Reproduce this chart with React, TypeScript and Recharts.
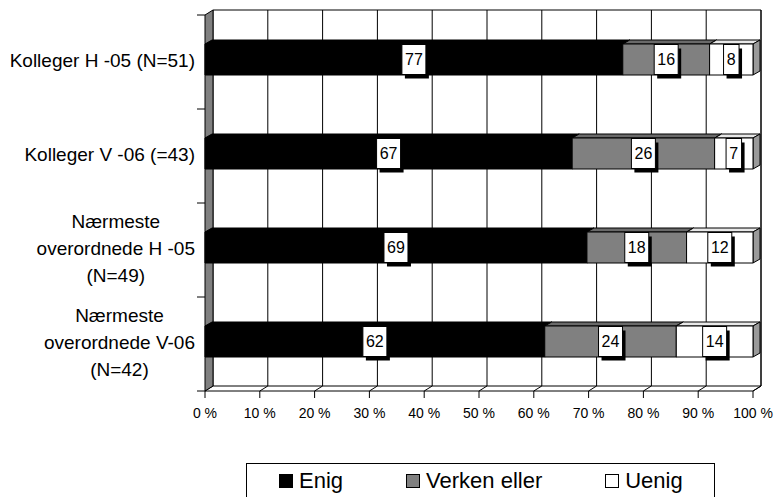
import { BarChart, Bar, XAxis, YAxis, CartesianGrid, ReferenceArea, LabelList } from 'recharts'

const categories = [
  'Kolleger H -05 (N=51)',
  'Kolleger V -06 (=43)',
  'Nærmeste\noverordnede H -05\n(N=49)',
  'Nærmeste\noverordnede V-06\n(N=42)',
]
const enig = [77, 67, 69, 62]
const verken = [16, 26, 18, 24]
const uenig = [8, 7, 12, 14]
const percentTicks = [0, 0.1, 0.2, 0.3, 0.4, 0.5, 0.6, 0.7, 0.8, 0.9, 1]

const series = [
  { key: 'enig', name: 'Enig', front: '#000000', top: '#000000', side: '#000000' },
  { key: 'verken', name: 'Verken eller', front: '#808080', top: '#6a6a6a', side: '#6a6a6a' },
  { key: 'uenig', name: 'Uenig', front: '#ffffff', top: '#e8e8e8', side: '#9a9a9a' },
]

const rows = categories.map((name, i) => ({ name, enig: enig[i], verken: verken[i], uenig: uenig[i] }))

const FONT = '"Liberation Sans", Arial, sans-serif'
// depth of the 3d box (walls) and of the bars
const DX = 8
const DY = -5
const BAR_DX = 7
const BAR_DY = -4
const BAR_SHIFT = -3

let ctx: CanvasRenderingContext2D | null = null
function textWidth(s: string, font: string) {
  if (!ctx) ctx = document.createElement('canvas').getContext('2d')
  if (!ctx) return s.length * 9
  ctx.font = font
  return ctx.measureText(s).width
}

function make3DBar(s: (typeof series)[number]) {
  return (props: any) => {
    const { x, y, width, height } = props
    if (!width || !height) return <g />
    const y0 = y + BAR_SHIFT
    const x1 = x + width
    const y1 = y0 + height
    return (
      <g stroke="#000" strokeWidth={1} strokeLinejoin="round">
        <polygon
          points={`${x},${y0} ${x + BAR_DX},${y0 + BAR_DY} ${x1 + BAR_DX},${y0 + BAR_DY} ${x1},${y0}`}
          fill={s.top}
        />
        <polygon
          points={`${x1},${y0} ${x1 + BAR_DX},${y0 + BAR_DY} ${x1 + BAR_DX},${y1 + BAR_DY} ${x1},${y1}`}
          fill={s.side}
        />
        <rect x={x} y={y0} width={width} height={height} fill={s.front} />
      </g>
    )
  }
}

function ValueBox(props: any) {
  const vb = props.viewBox ?? props
  const { x, y, width, height } = vb
  const { value } = props
  if (value == null || !width) return null
  const cx = x + width / 2
  const cy = y + height / 2 + BAR_SHIFT
  const w = String(value).length * 8.5 + 7
  const h = 30
  const bx = cx - w / 2
  const by = cy - h / 2
  return (
    <g>
      <rect x={bx + 3} y={by + 4} width={w} height={h} fill="#000" />
      <rect x={bx} y={by} width={w} height={h} fill="#fff" stroke="#000" strokeWidth={1} />
      <text x={cx} y={cy} dy="0.36em" textAnchor="middle" fontSize={16} fontFamily={FONT} fill="#000">
        {value}
      </text>
    </g>
  )
}

function CategoryTick(props: any) {
  const { x, y, payload } = props
  const lines = String(payload.value).split('\n')
  const font = `19px ${FONT}`
  const maxW = Math.max(...lines.map((l) => textWidth(l, font)))
  const cx = x - maxW / 2
  const lh = 27
  const startY = y - ((lines.length - 1) * lh) / 2 - 2
  return (
    <text textAnchor="middle" fontSize={19} fontFamily={FONT} fill="#000">
      {lines.map((l, i) => (
        <tspan key={i} x={cx} y={startY + i * lh} dy="0.36em">
          {l}
        </tspan>
      ))}
    </text>
  )
}

function Walls(props: any) {
  const { x, y, width, height } = props
  const r = x + width
  const b = y + height
  const bounds = categories.map((_, i) => y + (height * i) / categories.length).concat(b)
  return (
    <g stroke="#000" strokeWidth={1} fill="none">
      <polygon points={`${x},${y} ${x + DX},${y + DY} ${x + DX},${b + DY} ${x},${b}`} fill="#808080" />
      <polyline points={`${x + DX},${y + DY} ${r + DX},${y + DY} ${r + DX},${b + DY} ${x + DX},${b + DY}`} />
      <line x1={r} y1={b} x2={r + DX} y2={b + DY} />
      {bounds.map((t, i) => (
        <line key={i} x1={x - 8} y1={t} x2={x} y2={t} />
      ))}
    </g>
  )
}

const gridLine = (p: any) => (
  <g key={p.key}>
    <line x1={p.x1 + DX} y1={p.y1 + DY} x2={p.x2 + DX} y2={p.y2 + DY} stroke="#000" strokeWidth={1} />
    <line x1={p.x2} y1={p.y2} x2={p.x2 + DX} y2={p.y2 + DY} stroke="#000" strokeWidth={1} />
  </g>
)

export default function App() {
  return (
    <div style={{ position: 'absolute', left: 0, top: 0, width: 777, height: 497, background: '#fff', fontFamily: FONT }}>
      <BarChart
        width={777}
        height={497}
        data={rows}
        layout="vertical"
        stackOffset="expand"
        barSize={31}
        margin={{ top: 15, right: 24, bottom: 76, left: 0 }}
      >
        <CartesianGrid horizontal={false} vertical={gridLine} />
        <ReferenceArea x1={0} x2={1} shape={<Walls />} />
        <XAxis
          type="number"
          domain={[0, 1]}
          ticks={percentTicks}
          tickFormatter={(v: number) => `${Math.round(v * 100)} %`}
          height={30}
          stroke="#000"
          tickSize={7}
          tickMargin={10}
          tick={{ fill: '#000', fontSize: 14, fontFamily: FONT }}
        />
        <YAxis
          type="category"
          dataKey="name"
          width={205}
          axisLine={false}
          tickLine={false}
          tickSize={4}
          tickMargin={6}
          tick={<CategoryTick />}
        />
        {series.map((s) => (
          <Bar key={s.key} dataKey={s.key} stackId="a" shape={make3DBar(s)} isAnimationActive={false}>
            <LabelList dataKey={s.key} content={<ValueBox />} />
          </Bar>
        ))}
      </BarChart>
      <div
        style={{
          position: 'absolute',
          left: 246,
          top: 463,
          width: 469,
          height: 40,
          border: '1px solid #000',
          boxSizing: 'border-box',
          display: 'flex',
          alignItems: 'flex-start',
          paddingTop: 6,
          paddingLeft: 32,
          gap: 63,
        }}
      >
        {series.map((s) => (
          <div key={s.key} style={{ display: 'flex', alignItems: 'center', height: 22 }}>
            <span
              style={{
                width: 14,
                height: 14,
                boxSizing: 'border-box',
                border: '1px solid #000',
                background: s.front,
                marginRight: 6,
              }}
            />
            <span style={{ fontSize: 22, lineHeight: '22px', color: '#000' }}>{s.name}</span>
          </div>
        ))}
      </div>
    </div>
  )
}
